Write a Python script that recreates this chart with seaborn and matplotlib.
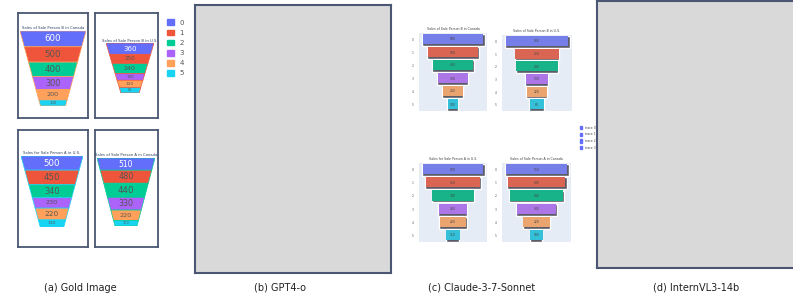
import numpy as np
import matplotlib
matplotlib.use("Agg")
import matplotlib.pyplot as plt
import seaborn as sns
from matplotlib.patches import Patch

sns.set_style("white")
plt.rcParams["font.family"] = ["DejaVu Sans"]

# data
stages = ["0", "1", "2", "3", "4", "5"]
b_canada = [600, 500, 400, 300, 200, 100]
b_us = [360, 250, 240, 130, 120, 80]
a_us = [500, 450, 340, 230, 220, 110]
a_canada = [510, 480, 440, 330, 220, 100]
funnel_titles = ["Sales of Sale Person B in Canada", "Sales of Sale Person B in U.S.",
                 "Sales for Sale Person A in U.S.", "Sales of Sale Person A in Canada"]
trace_names = ["trace 0", "trace 1", "trace 2", "trace 3"]
captions = ["(a) Gold Image", "(b) GPT4-o", "(c) Claude-3-7-Sonnet", "(d) InternVL3-14b"]

COLORS = ["#636EFA", "#EF553B", "#00CC96", "#AB63FA", "#FFA15A", "#19D3F3"]
BORDER = "#4A5672"
W, H = 793, 303

fig = plt.figure(figsize=(W / 100, H / 100), dpi=100)


def px_axes(x0, y0, x1, y1):
    return fig.add_axes([x0 / W, 1 - y1 / H, (x1 - x0) / W, (y1 - y0) / H])


def frame(ax, face="white", lw=1.2):
    ax.set_facecolor(face)
    ax.set_xticks([])
    ax.set_yticks([])
    for s in ax.spines.values():
        s.set_visible(True)
        s.set_color(BORDER)
        s.set_linewidth(lw)


# ---- (a) gold image: funnel-area charts ----
def funnel_area(ax, values, title, edge, seg_px, ratio=0.38):
    vals = np.array(values, dtype=float)
    cum = np.concatenate([[0], np.cumsum(vals) / vals.sum()])
    # depth where cumulative area reaches each fraction
    t = (1 - np.sqrt(1 - (1 - ratio ** 2) * cum)) / (1 - ratio)
    wid = 1 - (1 - ratio) * t
    for i in range(len(vals)):
        xs = [-wid[i] / 2, wid[i] / 2, wid[i + 1] / 2, -wid[i + 1] / 2]
        ys = [t[i], t[i], t[i + 1], t[i + 1]]
        ax.fill(xs, ys, color=COLORS[i], ec=edge, lw=0.5)
        h = (t[i + 1] - t[i]) * seg_px
        fs = min(6.2, 0.45 * h)
        ax.text(0, (t[i] + t[i + 1]) / 2, f"{int(values[i])}", ha="center", va="center",
                fontsize=fs, color="white" if i == 0 else "#555555")
    ax.set_xlim(-0.5, 0.5)
    ax.set_ylim(1, 0)
    ax.axis("off")
    ax.text(0, -0.01, title, ha="center", va="bottom", fontsize=2.7, color="#2a3f5f")


gold_boxes = [(18, 13, 88, 118), (95, 13, 158, 118), (18, 130, 88, 247), (95, 130, 158, 247)]
gold_funnels = [(20, 31, 86, 106), (106, 43, 154, 93), (21, 156, 83, 227), (97, 158, 155, 226)]
gold_data = [b_canada, b_us, a_us, a_canada]
gold_edges = ["#FFA15A", "#EF553B", "#19D3F3", "#00CC96"]

for box, fb, vals, title, edge in zip(gold_boxes, gold_funnels, gold_data, funnel_titles, gold_edges):
    frame(px_axes(*box), lw=1.3)
    fax = px_axes(*fb)
    funnel_area(fax, vals, title, edge, fb[3] - fb[1])

fig.legend(handles=[Patch(color=c) for c in COLORS], labels=stages,
           loc="upper left", bbox_to_anchor=(164 / W, 1 - 16 / H), frameon=False,
           fontsize=5, labelcolor="#555555", handlelength=0.9, handleheight=0.9,
           labelspacing=0.55, handletextpad=0.8, borderpad=0)

# ---- (b) and (d): empty grey panels ----
frame(px_axes(195, 5, 391, 273), face="#D9D9D9", lw=1.5)
dax = px_axes(597, 0.8, 800, 268)
frame(dax, face="#D9D9D9", lw=1.5)

# ---- (c) claude: centred bar funnels ----
claude_axes = [(419, 33, 487, 111), (502, 35, 572, 111), (419, 163, 487, 242), (502, 163, 571, 242)]
for box, vals, title in zip(claude_axes, gold_data, funnel_titles):
    ax = px_axes(*box)
    ax.set_facecolor("#E5ECF6")
    sns.barplot(x=vals, y=stages, orient="h", color="#5a5a6a", width=0.9, ax=ax)
    n_shadow = len(ax.patches)
    sns.barplot(x=vals, y=stages, hue=stages, palette=COLORS, orient="h",
                width=0.78, legend=False, ax=ax)
    for k, p in enumerate(ax.patches):
        w = p.get_width()
        if k < n_shadow:
            p.set_x(-w / 2 - max(vals) * 0.01)
            p.set_width(w * 1.03)
            p.set_y(p.get_y() + 0.04)
        else:
            p.set_x(-w / 2)
            p.set_y(p.get_y() - 0.03)
            p.set_edgecolor("none")
    for i, v in enumerate(vals):
        ax.text(0, i, str(v), ha="center", va="center", fontsize=2.2, color="#444444")
    m = max(vals)
    ax.set_xlim(-m * 0.56, m * 0.56)
    ax.set_xticks([])
    ax.set_xlabel("")
    ax.set_ylabel("")
    ax.tick_params(axis="y", length=0, labelsize=2.2, labelcolor="#555555", pad=4)
    sns.despine(ax=ax, left=True, bottom=True)
    ax.set_title(title, fontsize=2.3, color="#444444", pad=2)

fig.legend(handles=[Patch(color="#636EFA") for _ in trace_names], labels=trace_names,
           loc="upper left", bbox_to_anchor=(578 / W, 1 - 124 / H), frameon=False,
           fontsize=2.2, labelcolor="#444444", handlelength=0.9, handleheight=1.2,
           labelspacing=0.9, handletextpad=1.0, borderpad=0)

# captions
for cx, txt in zip([80, 280, 482, 696], captions):
    fig.text(cx / W, 1 - 288 / H, txt, ha="center", va="center", fontsize=7, color="#222222")

fig.savefig("out.png", dpi=100, facecolor="white")
